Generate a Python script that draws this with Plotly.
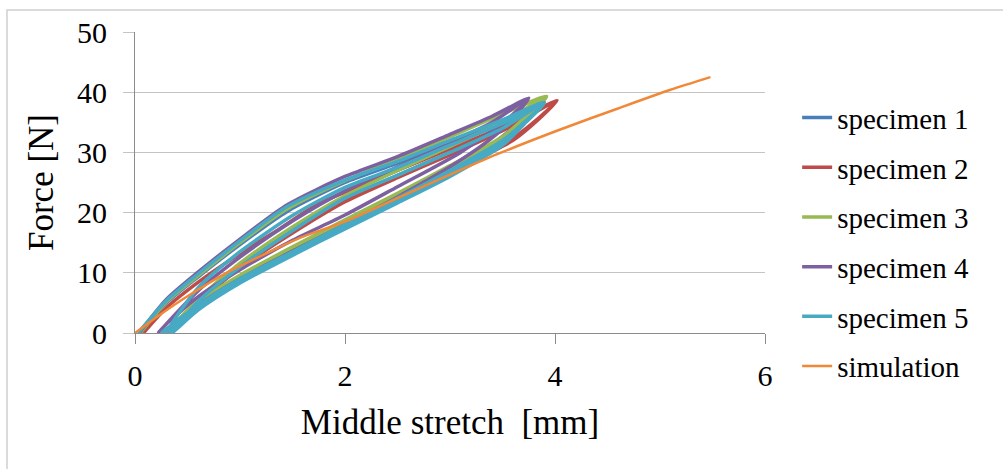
import plotly.graph_objects as go

# ---------------- data ----------------
x_ticks = [0, 2, 4, 6]
y_ticks = [0, 10, 20, 30, 40, 50]

spec1_x = [0.05, 0.3, 0.6, 1.0, 1.45, 2.0, 2.5, 3.0, 3.4, 3.85,
           3.65, 3.45, 3.0, 2.5, 2.0, 1.5, 1.0, 0.6, 0.32,
           0.6, 1.0, 1.5, 2.0, 2.5, 3.0, 3.5, 3.85,
           3.65, 3.45, 3.0, 2.5, 2.0, 1.5, 1.0, 0.6, 0.3]
spec1_y = [0, 5.0, 9.3, 14.7, 20.2, 25.0, 28.2, 31.8, 34.6, 37.8,
           34.6, 31.6, 26.8, 22.2, 17.8, 13.4, 8.8, 4.3, 0,
           5.0, 11.0, 17.0, 22.2, 26.2, 30.0, 34.3, 37.8,
           34.8, 32.0, 27.2, 22.6, 18.2, 13.8, 9.2, 4.8, 0]

spec2_x = [0.08, 0.3, 0.6, 1.0, 1.35, 1.73, 2.0, 2.5, 3.0, 3.5, 4.02,
           3.85, 3.6, 3.0, 2.5, 2.0, 1.5, 1.0, 0.6, 0.33,
           0.6, 1.0, 1.5, 2.0, 2.5, 3.0, 3.5, 4.02,
           3.85, 3.6, 3.0, 2.5, 2.0, 1.5, 1.0, 0.6, 0.3]
spec2_y = [0, 4.2, 8.4, 13.2, 17.0, 21.3, 23.4, 27.0, 30.6, 34.2, 38.6,
           35.6, 32.0, 26.6, 22.0, 17.6, 13.2, 8.7, 4.5, 0,
           5.0, 10.8, 16.6, 21.8, 25.8, 29.6, 33.6, 38.6,
           35.8, 32.4, 27.0, 22.4, 18.0, 13.5, 9.0, 4.8, 0]

spec3_x = [0.05, 0.3, 0.6, 1.0, 1.45, 2.0, 2.5, 3.0, 3.5, 3.92,
           3.75, 3.5, 3.0, 2.5, 2.0, 1.5, 1.0, 0.6, 0.3,
           0.6, 1.0, 1.5, 2.0, 2.5, 3.0, 3.5, 3.92,
           3.75, 3.5, 3.0, 2.5, 2.0, 1.5, 1.0, 0.6, 0.28]
spec3_y = [0, 5.2, 9.5, 15.0, 20.6, 25.3, 28.8, 32.6, 36.4, 39.3,
           36.2, 32.2, 27.4, 22.8, 18.4, 13.9, 9.2, 4.8, 0,
           5.6, 11.6, 17.6, 22.8, 27.0, 31.0, 35.0, 39.3,
           36.4, 32.6, 27.8, 23.2, 18.8, 14.3, 9.6, 5.2, 0]

spec4_x = [0.04, 0.3, 0.6, 1.0, 1.45, 2.0, 2.5, 3.0, 3.4, 3.75,
           3.55, 3.1, 2.5, 2.0, 1.5, 1.0, 0.6, 0.3, 0.22,
           0.6, 1.0, 1.5, 2.0, 2.5, 3.0, 3.4, 3.75,
           3.58, 3.4, 3.0, 2.5, 2.0, 1.5, 1.0, 0.6, 0.3]
spec4_y = [0, 5.6, 10.1, 15.6, 21.3, 26.0, 29.3, 33.0, 36.0, 39.0,
           35.6, 30.0, 24.3, 19.6, 15.4, 10.5, 6.0, 1.5, 0,
           7.0, 12.6, 18.6, 23.6, 27.6, 31.6, 35.0, 39.0,
           35.4, 32.4, 27.6, 22.6, 18.0, 13.6, 9.0, 4.6, 0]

spec5_x = [0.03, 0.3, 0.6, 1.0, 1.45, 2.0, 2.5, 3.0, 3.5, 3.9,
           3.7, 3.5, 3.0, 2.5, 2.0, 1.5, 1.0, 0.6, 0.35,
           0.6, 1.0, 1.5, 2.0, 2.5, 3.0, 3.5, 3.9,
           3.7, 3.5, 3.0, 2.5, 2.0, 1.5, 1.0, 0.6, 0.3,
           0.6, 1.0, 1.5, 2.0, 2.5, 3.0, 3.5, 3.9,
           3.72, 3.5, 3.0, 2.5, 2.0, 1.5, 1.0, 0.6, 0.25]
spec5_y = [0, 5.4, 9.8, 15.3, 21.0, 25.4, 28.5, 32.0, 35.4, 38.3,
           34.6, 31.2, 26.0, 21.6, 17.3, 12.9, 8.3, 3.8, 0,
           5.2, 11.0, 17.0, 22.4, 26.2, 30.0, 34.0, 38.3,
           34.8, 31.6, 26.4, 22.0, 17.6, 13.2, 8.6, 4.2, 0,
           7.5, 13.5, 19.5, 24.2, 27.5, 31.2, 34.8, 38.3,
           35.2, 32.0, 27.0, 22.4, 18.0, 13.5, 9.0, 4.6, 0]

sim_x = [0, 0.25, 0.5, 0.87, 1.2, 1.57, 2.0, 2.5, 3.0, 3.45, 4.05, 4.6, 5.1, 5.48]
sim_y = [0, 3.2, 6.1, 10.0, 12.8, 15.8, 18.5, 22.4, 26.3, 29.7, 33.8, 37.3, 40.4, 42.5]

names = ["specimen 1", "specimen 2", "specimen 3", "specimen 4", "specimen 5", "simulation"]
colors = ["#4A7EBB", "#BE4B48", "#98B954", "#7D60A0", "#46AAC5", "#F08838"]

# ---------------- figure ----------------
FONT = "Liberation Serif"
fig = go.Figure()
series = [(spec1_x, spec1_y), (spec2_x, spec2_y), (spec3_x, spec3_y),
          (spec4_x, spec4_y), (spec5_x, spec5_y), (sim_x, sim_y)]
for i, (xs, ys) in enumerate(series):
    fig.add_trace(go.Scatter(
        x=xs, y=ys, mode="lines", name=names[i],
        line=dict(color=colors[i], width=3.5 if i < 5 else 2.5,
                  shape="spline", smoothing=0.7),
        legendgroup=f"g{i}",
    ))

fig.update_layout(
    width=1003, height=469,
    margin=dict(l=135, r=238, t=32, b=136, autoexpand=False),
    paper_bgcolor="white", plot_bgcolor="white",
    font=dict(family=FONT, color="black"),
    showlegend=True,
    legend=dict(
        x=1.051, y=0.80, xanchor="left", yanchor="top",
        font=dict(family=FONT, size=29, color="black"),
        tracegroupgap=9, itemwidth=30, maxheight=460,
        bgcolor="rgba(0,0,0,0)",
    ),
    shapes=[dict(type="rect", xref="paper", yref="paper",
                 x0=-0.2032, y0=-0.6, x1=1.6, y1=1.0731,
                 line=dict(color="#d0d0d0", width=1.5), layer="below")],
)

fig.update_xaxes(
    range=[0, 6], tickvals=x_ticks, ticktext=[str(v) for v in x_ticks],
    showgrid=False, zeroline=False,
    showline=True, linecolor="#8c8c8c", linewidth=1.2,
    ticks="outside", ticklen=10, tickcolor="#8c8c8c", tickwidth=1.2,
    tickfont=dict(family=FONT, size=30, color="black"),
    ticklabelstandoff=6,
    title=dict(text="Middle stretch  [mm]", font=dict(family=FONT, size=35, color="black"), standoff=18),
    automargin=False,
)
fig.update_yaxes(
    range=[0, 50], tickvals=y_ticks, ticktext=[str(v) for v in y_ticks],
    showgrid=True, gridcolor="#c4c4c4", gridwidth=1.3, zeroline=False,
    showline=True, linecolor="#8c8c8c", linewidth=1.2,
    ticks="outside", ticklen=11, tickcolor="#c4c4c4", tickwidth=1.3,
    tickfont=dict(family=FONT, size=30, color="black"),
    ticklabelstandoff=10,
    title=dict(text="Force [N]", font=dict(family=FONT, size=35, color="black"), standoff=12),
    automargin=False,
)

fig.write_html("out.html")
